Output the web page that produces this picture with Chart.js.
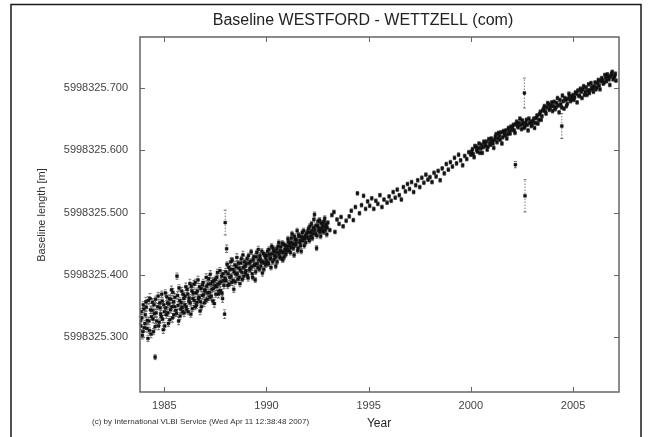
<!DOCTYPE html>
<html>
<head>
<meta charset="utf-8">
<script src="https://cdn.jsdelivr.net/npm/chart.js@4.4.0/dist/chart.umd.min.js"></script>
<style>
  html, body { margin: 0; padding: 0; background: #fff; }
  #wrap { width: 648px; height: 437px; position: relative; }
</style>
</head>
<body>
<div id="wrap"><canvas id="baseline_chart"></canvas></div>
<script>
// [epoch, baseline length (m), formal error (m)]
var era1984 = [
  [1983.85, 5998325.318, .006], [1983.90, 5998325.331, .005], [1983.95, 5998325.309, .007], [1984.00, 5998325.345, .006],
  [1984.05, 5998325.322, .005], [1984.10, 5998325.357, .007], [1984.15, 5998325.314, .006], [1984.20, 5998325.298, .005],
  [1984.25, 5998325.326, .006], [1984.30, 5998325.362, .008], [1984.35, 5998325.305, .006], [1984.40, 5998325.343, .005],
  [1984.45, 5998325.329, .006], [1984.50, 5998325.352, .007], [1984.55, 5998325.317, .005], [1984.60, 5998325.339, .006],
  [1984.70, 5998325.366, .006], [1984.75, 5998325.324, .005], [1984.80, 5998325.347, .007], [1984.85, 5998325.333, .006],
  [1984.90, 5998325.358, .005], [1984.95, 5998325.312, .006], [1985.00, 5998325.341, .006], [1985.05, 5998325.371, .005],
  [1985.10, 5998325.336, .006], [1985.15, 5998325.355, .007], [1985.20, 5998325.322, .005], [1985.25, 5998325.362, .006],
  [1985.30, 5998325.344, .005], [1985.35, 5998325.376, .006], [1985.40, 5998325.331, .007], [1985.45, 5998325.357, .005],
  [1985.50, 5998325.349, .006], [1985.60, 5998325.338, .005], [1985.65, 5998325.367, .006], [1985.70, 5998325.326, .006],
  [1985.75, 5998325.359, .005], [1985.80, 5998325.345, .007], [1985.85, 5998325.374, .006], [1985.90, 5998325.341, .005],
  [1985.95, 5998325.362, .006]
];
var era1984b = [
  [1983.82, 5998325.327, .006], [1983.87, 5998325.341, .005], [1983.92, 5998325.303, .006], [1983.97, 5998325.352, .005],
  [1984.02, 5998325.315, .006], [1984.07, 5998325.336, .005], [1984.12, 5998325.348, .006], [1984.17, 5998325.327, .005],
  [1984.22, 5998325.359, .006], [1984.27, 5998325.311, .005], [1984.32, 5998325.344, .006], [1984.37, 5998325.333, .005],
  [1984.42, 5998325.356, .006], [1984.47, 5998325.309, .005], [1984.52, 5998325.338, .006], [1984.57, 5998325.361, .005],
  [1984.62, 5998325.326, .006], [1984.67, 5998325.349, .005], [1984.72, 5998325.318, .006], [1984.77, 5998325.355, .005],
  [1984.82, 5998325.337, .006], [1984.87, 5998325.369, .005], [1984.92, 5998325.329, .006], [1984.97, 5998325.352, .005],
  [1985.02, 5998325.318, .006], [1985.07, 5998325.347, .005], [1985.12, 5998325.365, .006], [1985.17, 5998325.339, .005],
  [1985.22, 5998325.353, .006], [1985.27, 5998325.328, .005], [1985.32, 5998325.361, .006], [1985.37, 5998325.349, .005],
  [1985.42, 5998325.372, .006], [1985.47, 5998325.336, .005], [1985.52, 5998325.364, .006], [1985.57, 5998325.343, .005],
  [1985.67, 5998325.351, .006], [1985.72, 5998325.379, .005], [1985.77, 5998325.334, .006], [1985.82, 5998325.356, .005],
  [1985.87, 5998325.348, .006], [1985.92, 5998325.369, .005], [1985.97, 5998325.339, .006]
];
var era1986 = [
  [1986.00, 5998325.352, .005], [1986.05, 5998325.381, .006], [1986.10, 5998325.344, .005], [1986.15, 5998325.369, .006],
  [1986.20, 5998325.358, .005], [1986.25, 5998325.386, .007], [1986.30, 5998325.337, .005], [1986.35, 5998325.374, .006],
  [1986.40, 5998325.362, .005], [1986.45, 5998325.385, .006], [1986.50, 5998325.349, .005], [1986.55, 5998325.371, .006],
  [1986.60, 5998325.356, .005], [1986.65, 5998325.392, .006], [1986.70, 5998325.364, .005], [1986.75, 5998325.342, .006],
  [1986.80, 5998325.378, .005], [1986.85, 5998325.367, .006], [1986.90, 5998325.388, .005], [1986.95, 5998325.355, .006],
  [1987.00, 5998325.374, .005], [1987.05, 5998325.396, .006], [1987.10, 5998325.361, .005], [1987.15, 5998325.385, .006],
  [1987.20, 5998325.372, .005], [1987.25, 5998325.401, .006], [1987.30, 5998325.366, .005], [1987.35, 5998325.389, .006],
  [1987.40, 5998325.378, .005], [1987.45, 5998325.354, .006], [1987.50, 5998325.393, .005], [1987.55, 5998325.381, .006],
  [1987.60, 5998325.404, .005], [1987.65, 5998325.369, .006], [1987.70, 5998325.387, .005], [1987.75, 5998325.375, .006],
  [1987.80, 5998325.398, .005], [1987.85, 5998325.362, .006], [1987.90, 5998325.391, .005], [1987.95, 5998325.337, .007]
];
var era1986b = [
  [1986.02, 5998325.366, .005], [1986.07, 5998325.349, .005], [1986.12, 5998325.377, .005], [1986.17, 5998325.341, .005],
  [1986.22, 5998325.363, .005], [1986.27, 5998325.355, .005], [1986.32, 5998325.382, .005], [1986.37, 5998325.346, .005],
  [1986.42, 5998325.371, .005], [1986.47, 5998325.359, .005], [1986.52, 5998325.388, .005], [1986.57, 5998325.351, .005],
  [1986.62, 5998325.374, .005], [1986.67, 5998325.362, .005], [1986.72, 5998325.381, .005], [1986.77, 5998325.357, .005],
  [1986.82, 5998325.349, .005], [1986.87, 5998325.384, .005], [1986.92, 5998325.368, .005], [1986.97, 5998325.376, .005],
  [1987.02, 5998325.359, .005], [1987.07, 5998325.382, .005], [1987.12, 5998325.371, .005], [1987.17, 5998325.394, .005],
  [1987.22, 5998325.364, .005], [1987.27, 5998325.386, .005], [1987.32, 5998325.377, .005], [1987.37, 5998325.358, .005],
  [1987.42, 5998325.391, .005], [1987.47, 5998325.383, .005], [1987.52, 5998325.369, .005], [1987.57, 5998325.396, .005],
  [1987.62, 5998325.385, .005], [1987.67, 5998325.374, .005], [1987.72, 5998325.407, .005], [1987.77, 5998325.389, .005],
  [1987.82, 5998325.371, .005], [1987.87, 5998325.402, .005], [1987.92, 5998325.383, .005], [1987.97, 5998325.395, .005]
];
var era1988 = [
  [1988.00, 5998325.405, .005], [1988.10, 5998325.383, .005], [1988.15, 5998325.412, .006], [1988.20, 5998325.396, .005],
  [1988.25, 5998325.421, .006], [1988.30, 5998325.388, .005], [1988.35, 5998325.409, .006], [1988.40, 5998325.377, .005],
  [1988.45, 5998325.416, .006], [1988.50, 5998325.401, .005], [1988.55, 5998325.428, .006], [1988.60, 5998325.393, .005],
  [1988.65, 5998325.411, .006], [1988.70, 5998325.386, .005], [1988.75, 5998325.419, .006], [1988.80, 5998325.404, .005],
  [1988.85, 5998325.432, .006], [1988.90, 5998325.398, .005], [1988.95, 5998325.414, .005], [1989.00, 5998325.407, .005],
  [1989.05, 5998325.426, .004], [1989.10, 5998325.395, .005], [1989.15, 5998325.419, .004], [1989.20, 5998325.411, .005],
  [1989.25, 5998325.437, .004], [1989.30, 5998325.402, .005], [1989.35, 5998325.424, .004], [1989.40, 5998325.415, .005],
  [1989.45, 5998325.392, .004], [1989.50, 5998325.429, .005], [1989.55, 5998325.418, .004], [1989.60, 5998325.441, .005],
  [1989.65, 5998325.409, .004], [1989.70, 5998325.426, .005], [1989.75, 5998325.421, .004], [1989.80, 5998325.403, .005],
  [1989.85, 5998325.434, .004], [1989.90, 5998325.419, .005], [1989.95, 5998325.428, .004]
];
var era1988b = [
  [1988.02, 5998325.391, .004], [1988.07, 5998325.417, .004], [1988.12, 5998325.402, .004], [1988.17, 5998325.385, .004],
  [1988.22, 5998325.409, .004], [1988.27, 5998325.398, .004], [1988.32, 5998325.424, .004], [1988.37, 5998325.391, .004],
  [1988.42, 5998325.405, .004], [1988.47, 5998325.389, .004], [1988.52, 5998325.413, .004], [1988.57, 5998325.402, .004],
  [1988.62, 5998325.419, .004], [1988.67, 5998325.396, .004], [1988.72, 5998325.408, .004], [1988.77, 5998325.426, .004],
  [1988.82, 5998325.393, .004], [1988.87, 5998325.412, .004], [1988.92, 5998325.421, .004], [1988.97, 5998325.403, .004],
  [1989.02, 5998325.418, .004], [1989.07, 5998325.399, .004], [1989.12, 5998325.431, .004], [1989.17, 5998325.408, .004],
  [1989.22, 5998325.422, .004], [1989.27, 5998325.413, .004], [1989.32, 5998325.396, .004], [1989.37, 5998325.429, .004],
  [1989.42, 5998325.417, .004], [1989.47, 5998325.405, .004], [1989.52, 5998325.436, .004], [1989.57, 5998325.412, .004],
  [1989.62, 5998325.424, .004], [1989.67, 5998325.431, .004], [1989.72, 5998325.414, .004], [1989.77, 5998325.438, .004],
  [1989.82, 5998325.421, .004], [1989.87, 5998325.409, .004], [1989.92, 5998325.432, .004], [1989.97, 5998325.416, .004]
];
var era1990 = [
  [1990.00, 5998325.423, .004], [1990.05, 5998325.438, .004], [1990.10, 5998325.418, .004], [1990.15, 5998325.433, .004],
  [1990.20, 5998325.427, .004], [1990.25, 5998325.446, .004], [1990.30, 5998325.421, .004], [1990.35, 5998325.439, .004],
  [1990.40, 5998325.431, .004], [1990.45, 5998325.414, .004], [1990.50, 5998325.442, .004], [1990.55, 5998325.436, .004],
  [1990.60, 5998325.452, .004], [1990.65, 5998325.428, .004], [1990.70, 5998325.445, .004], [1990.75, 5998325.437, .004],
  [1990.80, 5998325.424, .004], [1990.85, 5998325.449, .004], [1990.90, 5998325.441, .004], [1990.95, 5998325.433, .004],
  [1991.00, 5998325.446, .004], [1991.05, 5998325.458, .004], [1991.10, 5998325.439, .004], [1991.15, 5998325.452, .004],
  [1991.20, 5998325.444, .004], [1991.25, 5998325.466, .004], [1991.30, 5998325.449, .004], [1991.35, 5998325.432, .004],
  [1991.40, 5998325.457, .004], [1991.45, 5998325.451, .004], [1991.50, 5998325.471, .004], [1991.55, 5998325.443, .004],
  [1991.60, 5998325.462, .004], [1991.65, 5998325.455, .004], [1991.70, 5998325.438, .004], [1991.75, 5998325.468, .004],
  [1991.80, 5998325.459, .004], [1991.85, 5998325.447, .004], [1991.90, 5998325.463, .004]
];
var era1990b = [
  [1990.02, 5998325.431, .004], [1990.07, 5998325.419, .004], [1990.12, 5998325.441, .004], [1990.17, 5998325.426, .004],
  [1990.22, 5998325.412, .004], [1990.27, 5998325.434, .004], [1990.32, 5998325.443, .004], [1990.37, 5998325.425, .004],
  [1990.42, 5998325.437, .004], [1990.47, 5998325.429, .004], [1990.52, 5998325.421, .004], [1990.57, 5998325.446, .004],
  [1990.62, 5998325.433, .004], [1990.67, 5998325.439, .004], [1990.72, 5998325.427, .004], [1990.77, 5998325.451, .004],
  [1990.82, 5998325.436, .004], [1990.87, 5998325.429, .004], [1990.92, 5998325.447, .004], [1990.97, 5998325.438, .004],
  [1991.02, 5998325.441, .004], [1991.07, 5998325.453, .004], [1991.12, 5998325.447, .004], [1991.17, 5998325.436, .004],
  [1991.22, 5998325.459, .004], [1991.27, 5998325.451, .004], [1991.32, 5998325.443, .004], [1991.37, 5998325.462, .004],
  [1991.42, 5998325.448, .004], [1991.47, 5998325.456, .004], [1991.52, 5998325.439, .004], [1991.57, 5998325.464, .004],
  [1991.62, 5998325.452, .004], [1991.67, 5998325.447, .004], [1991.72, 5998325.461, .004], [1991.77, 5998325.455, .004],
  [1991.82, 5998325.471, .004], [1991.87, 5998325.458, .004], [1991.92, 5998325.452, .004], [1991.97, 5998325.467, .004]
];
var era1992 = [
  [1992.00, 5998325.461, .004], [1992.05, 5998325.474, .004], [1992.10, 5998325.455, .004], [1992.15, 5998325.468, .004],
  [1992.20, 5998325.482, .004], [1992.25, 5998325.459, .004], [1992.30, 5998325.476, .004], [1992.35, 5998325.497, .004],
  [1992.40, 5998325.466, .004], [1992.45, 5998325.443, .004], [1992.50, 5998325.479, .004], [1992.55, 5998325.471, .004],
  [1992.60, 5998325.488, .004], [1992.65, 5998325.462, .004], [1992.70, 5998325.475, .004], [1992.75, 5998325.483, .004],
  [1992.80, 5998325.469, .004], [1992.85, 5998325.491, .004], [1992.90, 5998325.477, .004], [1992.95, 5998325.465, .004],
  [1992.02, 5998325.469, .004], [1992.07, 5998325.458, .004], [1992.12, 5998325.478, .004], [1992.17, 5998325.462, .004],
  [1992.22, 5998325.471, .004], [1992.27, 5998325.466, .004], [1992.32, 5998325.489, .004], [1992.37, 5998325.472, .004],
  [1992.42, 5998325.479, .004], [1992.47, 5998325.463, .004], [1992.52, 5998325.486, .004], [1992.57, 5998325.475, .004],
  [1992.62, 5998325.469, .004], [1992.67, 5998325.483, .004], [1992.72, 5998325.471, .004], [1992.77, 5998325.478, .004],
  [1992.82, 5998325.486, .004], [1992.87, 5998325.472, .004], [1992.92, 5998325.481, .004], [1992.97, 5998325.476, .004],
  [1993.00, 5998325.484, .003], [1993.10, 5998325.472, .003], [1993.20, 5998325.496, .003], [1993.30, 5998325.501, .003],
  [1993.35, 5998325.469, .003], [1993.45, 5998325.489, .003], [1993.55, 5998325.482, .003], [1993.65, 5998325.493, .003],
  [1993.75, 5998325.478, .003], [1993.90, 5998325.487, .003]
];
var era1994 = [
  [1994.05, 5998325.494, .003], [1994.15, 5998325.503, .003], [1994.25, 5998325.488, .003], [1994.35, 5998325.509, .003],
  [1994.45, 5998325.531, .003], [1994.55, 5998325.499, .003], [1994.65, 5998325.512, .003], [1994.75, 5998325.527, .003],
  [1994.85, 5998325.506, .003], [1994.95, 5998325.518, .003], [1995.05, 5998325.511, .003], [1995.15, 5998325.523, .003],
  [1995.25, 5998325.506, .003], [1995.35, 5998325.519, .003], [1995.45, 5998325.514, .003], [1995.55, 5998325.528, .003],
  [1995.65, 5998325.509, .003], [1995.75, 5998325.521, .003], [1995.90, 5998325.516, .003], [1996.00, 5998325.526, .003],
  [1996.10, 5998325.519, .003], [1996.20, 5998325.533, .003], [1996.30, 5998325.524, .003], [1996.40, 5998325.537, .003],
  [1996.50, 5998325.528, .003], [1996.60, 5998325.521, .003], [1996.70, 5998325.541, .003], [1996.80, 5998325.534, .003],
  [1996.90, 5998325.546, .003], [1997.00, 5998325.538, .003], [1997.10, 5998325.549, .003], [1997.20, 5998325.533, .003],
  [1997.30, 5998325.544, .003], [1997.40, 5998325.552, .003], [1997.50, 5998325.541, .003], [1997.60, 5998325.556, .003],
  [1997.70, 5998325.548, .003], [1997.80, 5998325.561, .003], [1997.90, 5998325.553, .003], [1998.00, 5998325.557, .003],
  [1998.10, 5998325.549, .003], [1998.20, 5998325.564, .003], [1998.30, 5998325.558, .003], [1998.40, 5998325.567, .003],
  [1998.50, 5998325.552, .003], [1998.60, 5998325.571, .003], [1998.70, 5998325.563, .003], [1998.80, 5998325.578, .003],
  [1998.90, 5998325.569, .003], [1999.00, 5998325.581, .003], [1999.10, 5998325.574, .003], [1999.20, 5998325.588, .003],
  [1999.30, 5998325.579, .003], [1999.40, 5998325.593, .003], [1999.50, 5998325.584, .003], [1999.60, 5998325.576, .003],
  [1999.70, 5998325.591, .003], [1999.80, 5998325.586, .003], [1999.90, 5998325.597, .003]
];
var era2000 = [
  [2000.00, 5998325.593, .003], [2000.08, 5998325.602, .003], [2000.16, 5998325.589, .003], [2000.24, 5998325.606, .003],
  [2000.32, 5998325.598, .003], [2000.40, 5998325.611, .003], [2000.48, 5998325.603, .003], [2000.56, 5998325.596, .003],
  [2000.64, 5998325.614, .003], [2000.72, 5998325.607, .003], [2000.80, 5998325.601, .003], [2000.88, 5998325.618, .003],
  [2000.96, 5998325.609, .003], [2001.04, 5998325.615, .003], [2001.12, 5998325.604, .003], [2001.20, 5998325.622, .003],
  [2001.28, 5998325.613, .003], [2001.36, 5998325.628, .003], [2001.44, 5998325.617, .003], [2001.52, 5998325.611, .003],
  [2001.60, 5998325.631, .003], [2001.68, 5998325.624, .003], [2001.76, 5998325.619, .003], [2001.84, 5998325.636, .003],
  [2001.92, 5998325.627, .003], [2002.00, 5998325.633, .003], [2002.08, 5998325.641, .003], [2002.16, 5998325.628, .003],
  [2002.24, 5998325.646, .003], [2002.32, 5998325.637, .003], [2002.40, 5998325.651, .003], [2002.48, 5998325.634, .003],
  [2002.56, 5998325.643, .003], [2002.64, 5998325.638, .003], [2002.72, 5998325.649, .003], [2002.80, 5998325.632, .003],
  [2002.88, 5998325.644, .003], [2002.96, 5998325.639, .003]
];
var era2000b = [
  [2000.04, 5998325.598, .003], [2000.12, 5998325.594, .003], [2000.20, 5998325.607, .003], [2000.28, 5998325.601, .003],
  [2000.36, 5998325.604, .003], [2000.44, 5998325.596, .003], [2000.52, 5998325.609, .003], [2000.60, 5998325.605, .003],
  [2000.68, 5998325.611, .003], [2000.76, 5998325.614, .003], [2000.84, 5998325.606, .003], [2000.92, 5998325.612, .003],
  [2001.00, 5998325.619, .003], [2001.08, 5998325.611, .003], [2001.16, 5998325.617, .003], [2001.24, 5998325.626, .003],
  [2001.32, 5998325.619, .003], [2001.40, 5998325.623, .003], [2001.48, 5998325.629, .003], [2001.56, 5998325.621, .003],
  [2001.64, 5998325.627, .003], [2001.72, 5998325.632, .003], [2001.80, 5998325.626, .003], [2001.88, 5998325.631, .003],
  [2001.96, 5998325.638, .003], [2002.04, 5998325.637, .003], [2002.12, 5998325.632, .003], [2002.20, 5998325.642, .003],
  [2002.28, 5998325.639, .003], [2002.36, 5998325.644, .003], [2002.44, 5998325.641, .003], [2002.52, 5998325.648, .003],
  [2002.60, 5998325.636, .003], [2002.68, 5998325.644, .003], [2002.76, 5998325.641, .003], [2002.84, 5998325.651, .003],
  [2002.92, 5998325.646, .003]
];
var era2003 = [
  [2003.04, 5998325.647, .003], [2003.12, 5998325.636, .003], [2003.20, 5998325.652, .003], [2003.28, 5998325.643, .003],
  [2003.36, 5998325.658, .003], [2003.44, 5998325.649, .003], [2003.52, 5998325.664, .003], [2003.60, 5998325.671, .003],
  [2003.68, 5998325.659, .003], [2003.76, 5998325.676, .003], [2003.84, 5998325.665, .003], [2003.92, 5998325.672, .003],
  [2004.00, 5998325.663, .003], [2004.08, 5998325.678, .003], [2004.16, 5998325.669, .003], [2004.24, 5998325.684, .003],
  [2004.32, 5998325.661, .003], [2004.40, 5998325.674, .003], [2004.48, 5998325.688, .003], [2004.56, 5998325.667, .003],
  [2004.64, 5998325.681, .003], [2004.72, 5998325.675, .003], [2004.80, 5998325.691, .003], [2004.88, 5998325.679, .003],
  [2004.96, 5998325.686, .003], [2005.04, 5998325.681, .003], [2005.12, 5998325.693, .003], [2005.20, 5998325.677, .003],
  [2005.28, 5998325.688, .003], [2005.36, 5998325.699, .003], [2005.44, 5998325.684, .003], [2005.52, 5998325.703, .003],
  [2005.60, 5998325.694, .003], [2005.68, 5998325.689, .003], [2005.76, 5998325.706, .003], [2005.84, 5998325.697, .003],
  [2005.92, 5998325.702, .003], [2006.00, 5998325.694, .003], [2006.08, 5998325.709, .003], [2006.16, 5998325.701, .003],
  [2006.24, 5998325.713, .003], [2006.32, 5998325.698, .003], [2006.40, 5998325.716, .003], [2006.48, 5998325.707, .003],
  [2006.56, 5998325.721, .003], [2006.64, 5998325.711, .003], [2006.72, 5998325.718, .003], [2006.80, 5998325.705, .003],
  [2006.88, 5998325.723, .003], [2006.96, 5998325.714, .003], [2007.04, 5998325.719, .003], [2007.10, 5998325.712, .003]
];
var era2003b = [
  [2003.00, 5998325.642, .003], [2003.08, 5998325.651, .003], [2003.16, 5998325.644, .003], [2003.24, 5998325.656, .003],
  [2003.32, 5998325.649, .003], [2003.40, 5998325.662, .003], [2003.48, 5998325.655, .003], [2003.56, 5998325.667, .003],
  [2003.64, 5998325.663, .003], [2003.72, 5998325.669, .003], [2003.80, 5998325.674, .003], [2003.88, 5998325.668, .003],
  [2003.96, 5998325.677, .003], [2004.04, 5998325.671, .003], [2004.12, 5998325.666, .003], [2004.20, 5998325.676, .003],
  [2004.28, 5998325.672, .003], [2004.36, 5998325.681, .003], [2004.44, 5998325.669, .003], [2004.52, 5998325.679, .003],
  [2004.60, 5998325.684, .003], [2004.68, 5998325.671, .003], [2004.76, 5998325.683, .003], [2004.84, 5998325.687, .003],
  [2004.92, 5998325.682, .003], [2005.00, 5998325.689, .003], [2005.08, 5998325.685, .003], [2005.16, 5998325.691, .003],
  [2005.24, 5998325.696, .003], [2005.32, 5998325.687, .003], [2005.40, 5998325.694, .003], [2005.48, 5998325.698, .003],
  [2005.56, 5998325.689, .003], [2005.64, 5998325.701, .003], [2005.72, 5998325.696, .003], [2005.80, 5998325.692, .003],
  [2005.88, 5998325.708, .003], [2005.96, 5998325.699, .003], [2006.04, 5998325.703, .003], [2006.12, 5998325.698, .003],
  [2006.20, 5998325.708, .003], [2006.28, 5998325.704, .003], [2006.36, 5998325.711, .003], [2006.44, 5998325.713, .003],
  [2006.52, 5998325.709, .003], [2006.60, 5998325.716, .003], [2006.68, 5998325.722, .003], [2006.76, 5998325.714, .003],
  [2006.84, 5998325.719, .003], [2006.92, 5998325.726, .003], [2007.00, 5998325.718, .003], [2007.07, 5998325.723, .003]
];
var outliers = [
  [1984.55, 5998325.268, .004], [1985.62, 5998325.398, .005], [1987.98, 5998325.484, .020], [1988.05, 5998325.442, .006],
  [2002.18, 5998325.577, .005], [2002.62, 5998325.692, .024], [2002.65, 5998325.527, .026], [2004.45, 5998325.639, .020]
];

var xTicks = [1985, 1990, 1995, 2000, 2005];
var yTicks = [5998325.3, 5998325.4, 5998325.5, 5998325.6, 5998325.7];

var allSessions = era1984.concat(era1984b, era1986, era1986b, era1988, era1988b, era1990, era1990b,
  era1992, era1994, era2000, era2000b, era2003, era2003b, outliers);
var points = allSessions.map(function(r){ return { x: r[0], y: r[1], s: r[2] }; });

var FONT = "'Liberation Sans', Arial, Helvetica, sans-serif";

var gnuplotLook = {
  id: 'gnuplotLook',
  beforeDraw: function(chart) {
    var c = chart.ctx;
    c.save();
    c.fillStyle = '#fff';
    c.fillRect(0, 0, chart.width, chart.height);
    c.strokeStyle = '#1a1a1a';
    c.lineWidth = 1.5;
    c.strokeRect(11, 4.5, 630, 445);
    c.restore();
  },
  beforeDatasetsDraw: function(chart) {
    // error bars, drawn under the points
    var c = chart.ctx, ys = chart.scales.y, xs = chart.scales.x;
    c.save();
    c.strokeStyle = '#555';
    c.lineWidth = 0.8;
    points.forEach(function(p){
      var px = xs.getPixelForValue(p.x);
      var y1 = ys.getPixelForValue(p.y - p.s), y2 = ys.getPixelForValue(p.y + p.s);
      c.setLineDash([1.5, 1.5]);
      c.beginPath(); c.moveTo(px, y1); c.lineTo(px, y2); c.stroke();
      c.setLineDash([]);
      c.beginPath();
      c.moveTo(px - 1.5, y1); c.lineTo(px + 1.5, y1);
      c.moveTo(px - 1.5, y2); c.lineTo(px + 1.5, y2);
      c.stroke();
    });
    c.restore();
  },
  afterDraw: function(chart) {
    var c = chart.ctx, a = chart.chartArea, xs = chart.scales.x, ys = chart.scales.y;
    c.save();
    // box with inward ticks on all four sides
    c.strokeStyle = '#666';
    c.lineWidth = 1.5;
    c.strokeRect(a.left, a.top, a.right - a.left, a.bottom - a.top);
    c.lineWidth = 1;
    c.beginPath();
    xTicks.forEach(function(v){
      var px = Math.round(xs.getPixelForValue(v)) + 0.5;
      c.moveTo(px, a.bottom); c.lineTo(px, a.bottom - 5);
      c.moveTo(px, a.top); c.lineTo(px, a.top + 5);
    });
    yTicks.forEach(function(v){
      var py = Math.round(ys.getPixelForValue(v)) + 0.5;
      c.moveTo(a.left, py); c.lineTo(a.left + 5, py);
      c.moveTo(a.right, py); c.lineTo(a.right - 5, py);
    });
    c.stroke();

    c.fillStyle = '#222';
    c.textAlign = 'center';
    c.textBaseline = 'middle';
    c.font = '16px ' + FONT;
    c.fillText('Baseline WESTFORD - WETTZELL (com)', 363, 21);

    c.font = '12px ' + FONT;
    c.fillText('Year', 379, 424);

    c.font = '8px ' + FONT;
    c.fillStyle = '#333';
    c.textAlign = 'left';
    c.fillText('(c) by International VLBI Service (Wed Apr 11 12:38:48 2007)', 92, 422);

    c.font = '11px ' + FONT;
    c.fillStyle = '#333';
    c.textAlign = 'center';
    c.translate(42, 215);
    c.rotate(-Math.PI / 2);
    c.fillText('Baseline length [m]', 0, 0);
    c.restore();
  }
};

var ctx = document.getElementById('baseline_chart');

var chart = new Chart(ctx, {
  type: 'scatter',
  data: {
    datasets: [{
      label: 'WESTFORD - WETTZELL',
      data: points,
      pointStyle: 'rect',
      pointRadius: 2,
      backgroundColor: '#111',
      borderColor: '#111',
      borderWidth: 0.5
    }]
  },
  options: {
    responsive: true,
    maintainAspectRatio: false,
    animation: false,
    layout: { padding: { left: 0, top: 37, right: 29, bottom: 0 } },
    plugins: {
      legend: { display: false },
      tooltip: { enabled: false }
    },
    scales: {
      x: {
        type: 'linear',
        min: 1983.81,
        max: 2007.25,
        afterBuildTicks: function(s){ s.ticks = xTicks.map(function(v){ return { value: v }; }); },
        afterFit: function(s){ s.height = 45; },
        grid: { display: false, drawTicks: false },
        border: { display: false },
        ticks: {
          autoSkip: false, maxRotation: 0, padding: 7,
          color: '#444',
          font: { family: FONT, size: 11 },
          callback: function(v){ return String(v); }
        }
      },
      y: {
        type: 'linear',
        min: 5998325.212,
        max: 5998325.782,
        afterBuildTicks: function(s){ s.ticks = yTicks.map(function(v){ return { value: v }; }); },
        afterFit: function(s){ s.width = 140; },
        grid: { display: false, drawTicks: false },
        border: { display: false },
        ticks: {
          autoSkip: false, padding: 12,
          color: '#444',
          font: { family: FONT, size: 11 },
          callback: function(v){ return v.toFixed(3); }
        }
      }
    }
  },
  plugins: [gnuplotLook]
});
</script>
</body>
</html>
